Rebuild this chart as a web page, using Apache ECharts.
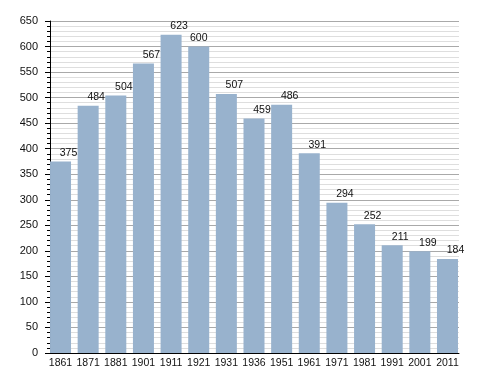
<!DOCTYPE html>
<html>
<head>
<meta charset="utf-8">
<script src="https://cdn.jsdelivr.net/npm/echarts@6/dist/echarts.min.js"></script>
<style>html,body{margin:0;padding:0;background:#fff}#c{width:488px;height:373px}</style>
</head>
<body>
<div id="c"></div>
<script>
const years = ['1861','1871','1881','1901','1911','1921','1931','1936','1951','1961','1971','1981','1991','2001','2011'];
const population = [375,484,504,567,623,600,507,459,486,391,294,252,211,199,184];
const labelShift = [8,8,8,8,8,0,8,8,8,8,8,8,8,8,8];
const yMax = 650, yStep = 50;

const font = 'Liberation Sans, Arial, sans-serif';
const chart = echarts.init(document.getElementById('c'), null, {renderer:'canvas'});
chart.setOption({
  animation:false,
  backgroundColor:'#fff',
  grid:[
    {left:50, top:21, width:409, bottom:20, containLabel:false},
    {left:46.7, top:21, width:414.6, bottom:20, containLabel:false}
  ],
  xAxis:[
    {type:'category', gridIndex:0, data:years, axisLine:{show:true, lineStyle:{color:'#000', width:1}},
     axisTick:{show:false}, axisLabel:{show:false}, splitLine:{show:false}},
    {type:'category', gridIndex:1, data:years, axisLine:{show:false}, axisTick:{show:false},
     axisLabel:{show:true, interval:0, hideOverlap:false, color:'#111', fontSize:10.5, fontFamily:font, margin:5}}
  ],
  yAxis:[
    {type:'value', gridIndex:0, min:0, max:yMax, interval:yStep,
     axisLine:{show:true, lineStyle:{color:'#000', width:1}},
     axisTick:{show:true, length:5, lineStyle:{color:'#000'}},
     minorTick:{show:true, splitNumber:5, length:3, lineStyle:{color:'#000'}},
     axisLabel:{color:'#111', fontSize:11, fontFamily:font, margin:12},
     splitLine:{show:true, lineStyle:{color:'#a9a9a9', width:1}},
     minorSplitLine:{show:true, lineStyle:{color:'#dedede', width:1}}},
    {type:'value', gridIndex:1, min:0, max:yMax, interval:yStep, show:false, splitLine:{show:false}}
  ],
  series:[{
    type:'bar', xAxisIndex:1, yAxisIndex:1, barWidth:21,
    itemStyle:{color:'#98b2cd'},
    data: population.map((v,i)=>({value:v, label:{offset:[labelShift[i],0]}})),
    label:{show:true, position:'top', distance:3, color:'#111', fontSize:10.5, fontFamily:font}
  }]
});
</script>
</body>
</html>
